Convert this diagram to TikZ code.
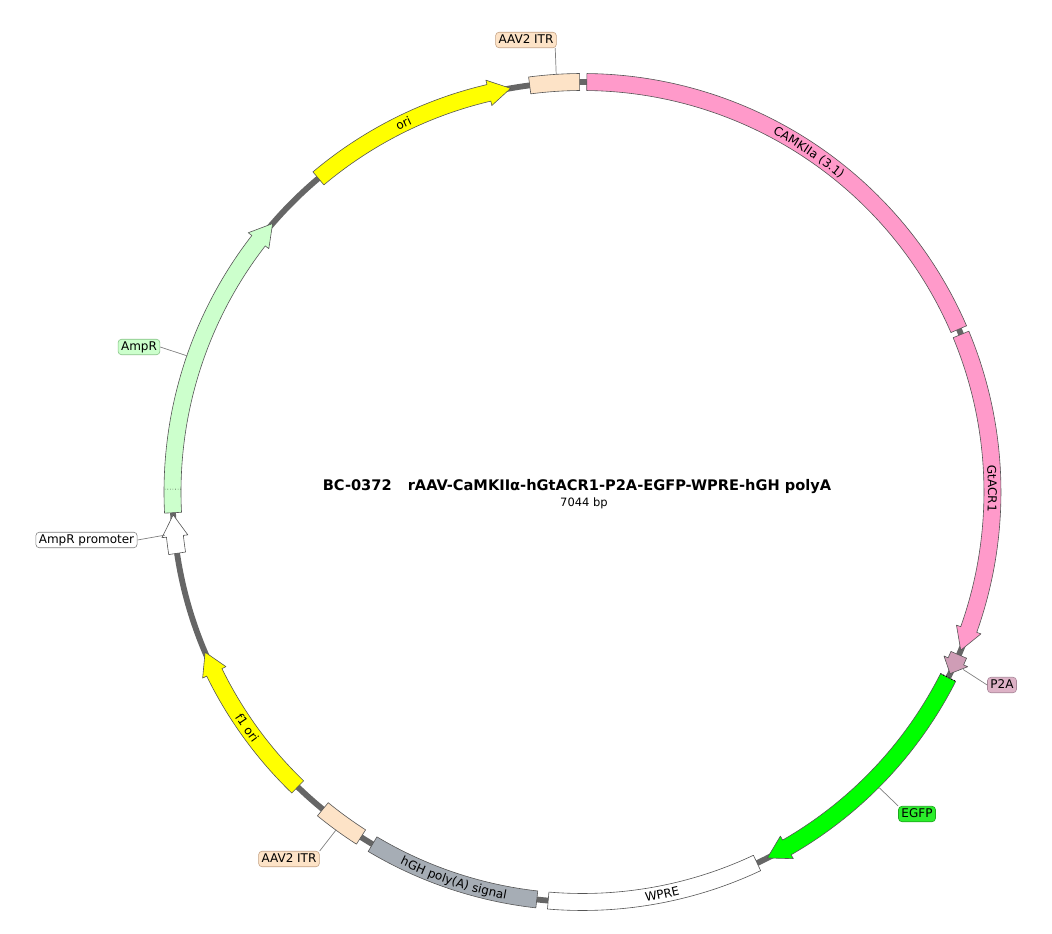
\documentclass[tikz,border=0pt]{standalone}
\usepackage{fontspec}
\setmainfont{DejaVu Sans}
\usetikzlibrary{decorations.text,calc}
\definecolor{outl}{HTML}{555555}
\definecolor{bbone}{HTML}{666666}
\definecolor{leadc}{HTML}{808080}
\definecolor{itrc}{HTML}{FDE3C7}
\definecolor{itrd}{HTML}{C4A284}
\definecolor{pinkc}{HTML}{FF9ACA}
\definecolor{p2ac}{HTML}{CF9DB6}
\definecolor{p2al}{HTML}{DDB2C6}
\definecolor{p2ad}{HTML}{A9879A}
\definecolor{egfpc}{HTML}{00FF00}
\definecolor{egfpl}{HTML}{2BEE2B}
\definecolor{egfpd}{HTML}{1DA81D}
\definecolor{hghc}{HTML}{A6ADB5}
\definecolor{yelc}{HTML}{FFFF00}
\definecolor{ampc}{HTML}{CCFFCC}
\definecolor{ampd}{HTML}{86C286}
\def\rMid{410}
\def\rOut{418.5}
\def\rIn{401.5}
\def\rHo{423}
\def\rHi{397}
\newcommand{\featbox}[3]{%
  \pgfmathsetmacro\angA{90-#1}\pgfmathsetmacro\angB{90-#2}%
  \draw[feat,#3] (\angA:\rOut) arc[start angle=\angA,end angle=\angB,radius=\rOut]
    -- (\angB:\rIn) arc[start angle=\angB,end angle=\angA,radius=\rIn] -- cycle;}
\newcommand{\featarrow}[4]{%
  \pgfmathsetmacro\angA{90-#1}\pgfmathsetmacro\angB{90-#2}\pgfmathsetmacro\angH{90-#2+#3}%
  \draw[feat,#4] (\angA:\rOut) arc[start angle=\angA,end angle=\angH,radius=\rOut]
    -- (\angH:\rHo) -- (\angB:\rMid) -- (\angH:\rHi) -- (\angH:\rIn)
    arc[start angle=\angH,end angle=\angA,radius=\rIn] -- cycle;}
\newcommand{\arclabelcw}[4]{%
  \pgfmathsetmacro\angA{90-#1+#2}\pgfmathsetmacro\angB{90-#1-#2}%
  \path[decorate,decoration={text along path,text align=center,
    text={|\fontsize{12}{14}\selectfont|#4}}]
    (\angA:#3) arc[start angle=\angA,end angle=\angB,radius=#3];}
\newcommand{\arclabelccw}[4]{%
  \pgfmathsetmacro\angA{90-#1-#2}\pgfmathsetmacro\angB{90-#1+#2}%
  \path[decorate,decoration={text along path,text align=center,
    text={|\fontsize{12}{14}\selectfont|#4}}]
    (\angA:#3) arc[start angle=\angA,end angle=\angB,radius=#3];}
\begin{document}
\begin{tikzpicture}[x=1pt,y=1pt,
  feat/.style={draw=outl,line width=0.6pt,line join=round},
  backbone/.style={draw=bbone,line width=5.8pt},
  lbl/.style={rounded corners=3.5pt,inner xsep=3pt,inner ysep=2pt,line width=0.6pt,
    text height=9pt,text depth=2.5pt,font=\fontsize{12}{14}\selectfont},
  leader/.style={draw=leadc,line width=0.7pt}]
\useasboundingbox (-582.5,-442) rectangle (469.5,492);
% backbone
\draw[backbone] (0,0) circle[radius=\rMid];
% features
\featbox{352.6}{359.6}{fill=itrc}
\featbox{0.6}{66.6}{fill=pinkc}
\featarrow{67.4}{112.7}{3.1}{fill=pinkc}
\featarrow{113.4}{116.3}{1.9}{fill=p2ac}
\featarrow{116.9}{153.2}{3.1}{fill=egfpc}
\draw[black,dotted,line width=1pt] (90-116.9:\rIn) -- (90-116.9:\rOut);
\featbox{154.8}{184.8}{fill=white}
\featbox{186.4}{210.8}{fill=hghc}
\featbox{212.7}{219.3}{fill=itrc}
\featarrow{224}{247}{3.1}{fill=yelc}
\featarrow{261.4}{266.8}{3.0}{fill=white}
\featarrow{267.1}{310.9}{3.1}{fill=ampc}
\draw[black,dotted,line width=0.6pt] (90-270.4:\rIn) -- (90-270.4:\rOut);
\featarrow{319.9}{349.9}{3.1}{fill=yelc}
% in-band labels
\arclabelcw{33.7}{25}{405.6}{CAMKIIa (3.1)}
\arclabelcw{89.5}{20}{405.6}{GtACR1}
\arclabelcw{334.1}{14}{405.6}{ori}
\arclabelccw{234.9}{12}{414.4}{f1 ori}
\arclabelccw{198.4}{12}{414.4}{hGH poly(A) signal}
\arclabelccw{168.8}{14}{414.4}{WPRE}
% title
\node[font=\fontsize{14.6}{17}\selectfont\bfseries] (title) at (-5.5,5)
  {BC-0372\hspace{1.1em}rAAV-CaMKIIα-hGtACR1-P2A-EGFP-WPRE-hGH polyA};
\node[font=\fontsize{11.5}{13}\selectfont] (bp) at (1.5,-11) {7044 bp};
% leader targets
\coordinate (pITRt) at (93.6:419);
\coordinate (pAmpR) at (161.0:418);
\coordinate (pAmpRp) at (185.9:420);
\coordinate (pITRb) at (233.9:418);
\coordinate (pP2A) at (-25:420);
\coordinate (pEGFP) at (-44.9:419);
% labels
\node[lbl,fill=itrc,draw=itrd] (lITRt) at (-56.5,452) {AAV2 ITR};
\draw[leader] ($(lITRt.south east)+(-1.5,0)$) -- (pITRt);
\node[lbl,fill=ampc,draw=ampd] (lAmpR) at (-443.5,145) {AmpR};
\draw[leader] (lAmpR.east) -- (pAmpR);
\node[lbl,fill=white,draw=leadc] (lAmpRp) at (-496,-48) {AmpR promoter};
\draw[leader] (lAmpRp.east) -- (pAmpRp);
\node[lbl,fill=itrc,draw=itrd] (lITRb) at (-293.5,-367) {AAV2 ITR};
\draw[leader] (lITRb.north east) -- (pITRb);
\node[lbl,fill=p2al,draw=p2ad] (lP2A) at (419.5,-193) {P2A};
\draw[leader] (lP2A.west) -- (pP2A);
\node[lbl,fill=egfpl,draw=egfpd] (lEGFP) at (334.5,-322) {EGFP};
\draw[leader] (lEGFP.north west) -- (pEGFP);
\end{tikzpicture}
\end{document}
